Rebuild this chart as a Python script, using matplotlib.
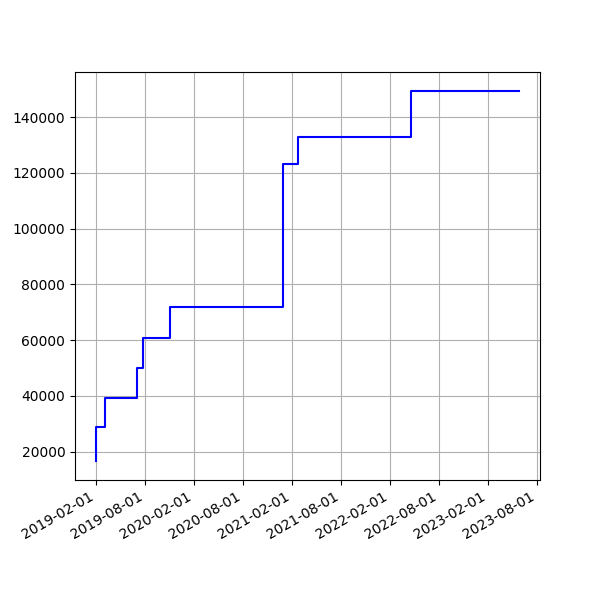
import numpy as np
import matplotlib
matplotlib.use("Agg")
import matplotlib.pyplot as plt
import matplotlib.dates as mdates
from datetime import datetime

dates = ["2019-02-01", "2019-02-02", "2019-03-07", "2019-07-03", "2019-07-25",
         "2019-11-02", "2020-12-30", "2021-02-23", "2022-04-19", "2023-05-27"]
values = [16500, 28800, 39400, 50000, 60700, 72000, 123000, 133000, 149500, 149500]

x = [datetime.strptime(d, "%Y-%m-%d") for d in dates]

fig, ax = plt.subplots(figsize=(6, 6), dpi=100)
ax.plot(x, values, "b-", drawstyle="steps-post")
ax.xaxis.set_major_locator(mdates.MonthLocator(bymonth=[2, 8]))
ax.xaxis.set_major_formatter(mdates.DateFormatter("%Y-%m-%d"))
ax.grid(True)
fig.autofmt_xdate()
fig.savefig("out.png")
